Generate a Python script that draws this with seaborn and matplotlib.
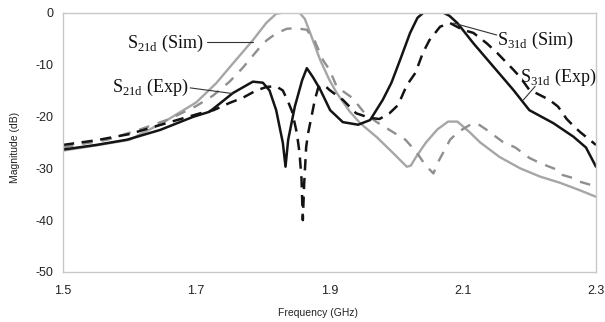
import seaborn as sns
import matplotlib.pyplot as plt
import pandas as pd

# gray solid
s21_sim_f = [1.50, 1.55, 1.60, 1.65, 1.70, 1.73, 1.755, 1.785, 1.805, 1.82, 1.83, 1.855,
             1.863, 1.871, 1.886, 1.90, 1.911, 1.93, 1.946, 1.971, 1.995, 2.016, 2.022,
             2.030, 2.045, 2.062, 2.078, 2.092, 2.11, 2.126, 2.155, 2.186, 2.216, 2.246,
             2.275, 2.30]
s21_sim_db = [-26.6, -25.6, -24.5, -21.2, -17.3, -13.6, -9.8, -5.3, -2.0, -0.2, 0.0, 0.0,
              -1.2, -3.9, -9.1, -13.0, -15.5, -19.0, -21.3, -24.0, -27.0, -29.7, -29.5,
              -27.8, -25.0, -22.5, -21.0, -21.0, -23.0, -25.0, -27.8, -30.0, -31.6, -32.8,
              -34.2, -35.5]

# gray dashed
s21_exp_f = [1.50, 1.52, 1.566, 1.616, 1.66, 1.70, 1.725, 1.75, 1.77, 1.796, 1.806, 1.82,
             1.836, 1.85, 1.866, 1.878, 1.89, 1.90, 1.911, 1.934, 1.953, 1.971, 1.995,
             2.014, 2.030, 2.044, 2.056, 2.063, 2.081, 2.093, 2.11, 2.121, 2.136, 2.16,
             2.179, 2.20, 2.216, 2.242, 2.25, 2.266, 2.276, 2.30]
s21_exp_db = [-26.0, -25.5, -24.5, -22.5, -20.5, -18.0, -16.0, -13.3, -10.6, -6.6, -5.3, -4.0,
              -3.1, -3.0, -3.3, -5.5, -9.1, -11.0, -14.3, -16.4, -19.4, -21.1, -23.0,
              -24.5, -26.8, -29.4, -31.0, -28.8, -24.5, -23.0, -21.7, -21.3, -22.6, -24.9,
              -26.0, -28.0, -29.0, -30.3, -31.3, -31.9, -32.6, -33.5]

# black solid
s31_sim_f = [1.50, 1.55, 1.596, 1.646, 1.695, 1.72, 1.755, 1.785, 1.80, 1.81, 1.82, 1.83,
             1.834, 1.838, 1.848, 1.859, 1.866, 1.875, 1.886, 1.901, 1.92, 1.943, 1.961,
             1.98, 1.993, 2.006, 2.021, 2.032, 2.041, 2.071, 2.08, 2.092, 2.116, 2.146,
             2.176, 2.20, 2.236, 2.266, 2.285, 2.30]
s31_sim_db = [-26.4, -25.5, -24.5, -22.6, -20.1, -19.1, -15.5, -13.3, -13.5, -15.0, -18.8, -25.1,
              -29.7, -24.5, -18.1, -13.0, -10.7, -12.4, -14.8, -18.8, -21.1, -21.6, -20.7,
              -16.8, -13.5, -9.1, -3.9, -1.0, 0.0, 0.0, -0.6, -2.0, -5.9, -10.4,
              -14.9, -18.8, -21.3, -23.9, -26.0, -29.7]

# black dashed
s31_exp_f = [1.50, 1.55, 1.60, 1.65, 1.706, 1.726, 1.75, 1.77, 1.79, 1.806, 1.82, 1.83,
             1.838, 1.844, 1.851, 1.855, 1.858, 1.860, 1.862, 1.865, 1.868, 1.874, 1.878,
             1.883, 1.889, 1.895, 1.90, 1.92, 1.94, 1.961, 1.975, 1.99, 2.003, 2.016,
             2.029, 2.04, 2.05, 2.066, 2.081, 2.10, 2.116, 2.136, 2.152, 2.176, 2.186,
             2.20, 2.21, 2.23, 2.243, 2.256, 2.266, 2.276, 2.30]
s31_exp_db = [-25.5, -24.6, -23.4, -21.5, -19.4, -18.8, -17.4, -16.4, -15.0, -14.3, -14.2, -15.0,
              -17.2, -19.1, -23.2, -27.0, -32.0, -40.0, -33.0, -25.9, -23.2, -19.4, -16.8,
              -14.5, -13.9, -14.3, -14.9, -16.8, -19.4, -20.3, -20.5, -19.4, -17.8, -14.0,
              -11.6, -7.8, -5.3, -2.7, -2.0, -3.3, -3.9, -5.9, -7.8, -11.0, -12.4,
              -14.9, -15.5, -16.8, -18.1, -20.5, -21.8, -23.0, -25.5]

x_ticks = [1.5, 1.7, 1.9, 2.1, 2.3]
y_ticks = [0, -10, -20, -30, -40, -50]

sns.set_style("white")
plt.rcParams['font.family'] = ['Liberation Sans', 'DejaVu Sans']
plt.rcParams['axes.unicode_minus'] = False
plt.rcParams['mathtext.fontset'] = 'custom'
plt.rcParams['mathtext.rm'] = 'Liberation Serif'

fig = plt.figure(figsize=(6.05, 3.22), dpi=100)
ax = fig.add_axes([0.1041, 0.1553, 0.881, 0.8053])

# 四条曲线
curves = [
    (s21_sim_f, s21_sim_db, "#a6a6a6", 1.7, None),
    (s21_exp_f, s21_exp_db, "#8f8f8f", 1.7, (4.5, 3.8)),
    (s31_sim_f, s31_sim_db, "#141414", 1.8, None),
    (s31_exp_f, s31_exp_db, "#141414", 1.8, (4.5, 3.0)),
]
for f, db, col, lw, dash in curves:
    df = pd.DataFrame({"f": f, "db": db})
    sns.lineplot(data=df, x="f", y="db", color=col, linewidth=lw, ax=ax)
    if dash is not None:
        ax.lines[-1].set_dashes(dash)

ax.set_xlim(1.5, 2.3)
ax.set_ylim(-50, 0)
ax.set_xticks(x_ticks)
ax.set_xticklabels([str(t) for t in x_ticks])
ax.set_yticks(y_ticks)
ax.set_yticklabels([str(t) for t in y_ticks])
ax.tick_params(axis="both", direction="out", length=4.5, width=1, color="#c0c0c0",
               labelsize=9, labelcolor="#222222", pad=2.5)
ax.tick_params(axis="x", pad=5)
for sp in ax.spines.values():
    sp.set_color("#c8c8c8")
    sp.set_linewidth(1.0)

ax.set_xlabel("")
ax.set_ylabel("")
fig.text(318 / 605, 1 - 313 / 322, "Frequency (GHz)", ha="center", va="center",
         fontsize=7.5, color="#222222")
fig.text(15 / 605, 1 - 147 / 322, "Magnitude (dB)", ha="center", va="center",
         rotation=90, fontsize=7.5, color="#222222")

# 标注
tk = dict(fontsize=13, family="Liberation Serif", color="#111111", va="center")
ax.text(1.710, -5.9, r"S$_{\mathregular{21d}}$ (Sim)", ha="right", **tk)
ax.plot([1.716, 1.785], [-5.65, -5.65], color="#333333", lw=0.8)
ax.text(1.688, -14.5, r"S$_{\mathregular{21d}}$ (Exp)", ha="right", **tk)
ax.plot([1.691, 1.755], [-14.5, -15.6], color="#333333", lw=0.8)
ax.text(2.152, -5.3, r"S$_{\mathregular{31d}}$ (Sim)", ha="left", **tk)
ax.plot([2.151, 2.086], [-4.3, -2.0], color="#333333", lw=0.8)
ax.text(2.186, -12.4, r"S$_{\mathregular{31d}}$ (Exp)", ha="left", clip_on=False, **tk)
ax.plot([2.2087, 2.1912], [-14.2, -16.8], color="#333333", lw=0.8)

fig.savefig("out.png", dpi=100)
